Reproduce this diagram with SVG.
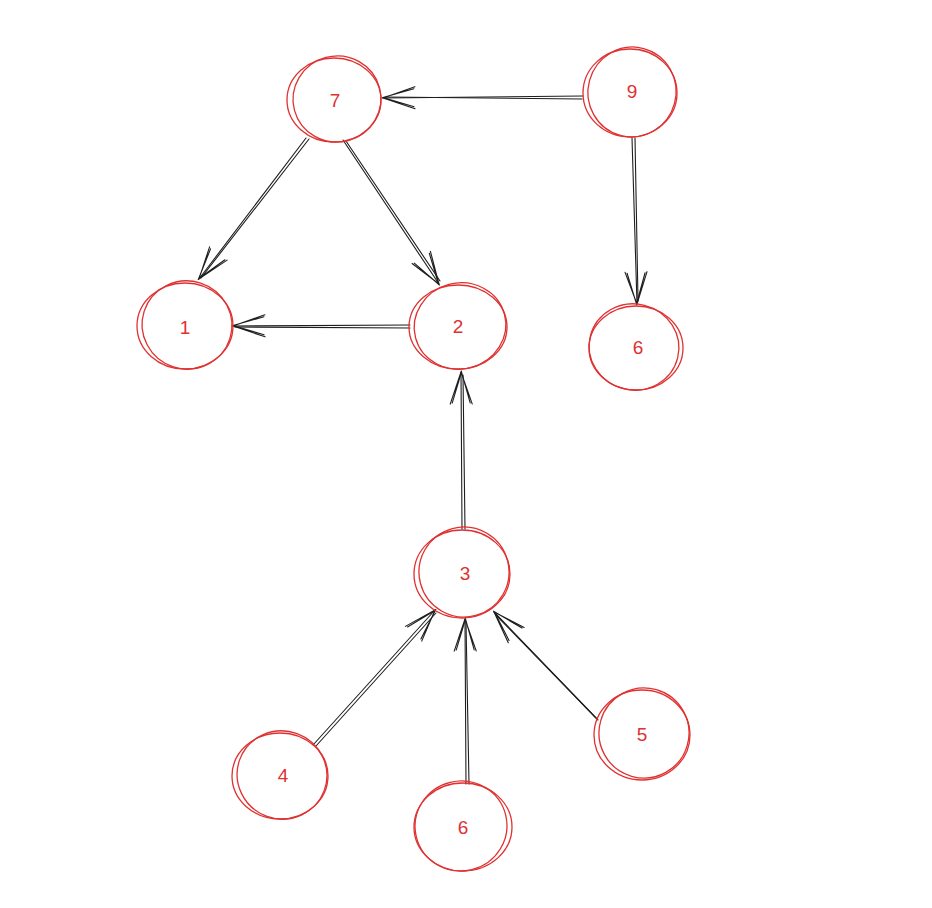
<svg xmlns="http://www.w3.org/2000/svg" width="932" height="908" viewBox="0 0 932 908">
<style>
.bg{fill:#ffffff}
.n{fill:none;stroke:#e03131;stroke-width:1.3}
.t{font-family:"Liberation Sans","DejaVu Sans",sans-serif;font-size:19px;fill:#e03131;text-anchor:middle;dominant-baseline:central}
.c{fill:none;stroke:#1e1e1e;stroke-width:1.1;stroke-linecap:round}
</style>
<defs>
<marker id="ah" markerUnits="userSpaceOnUse" viewBox="-36 -14 40 28" refX="0" refY="0" markerWidth="40" markerHeight="28" orient="auto" overflow="visible">
<path d="M-32,-11 L0,0 L-32,11 M-31,-9 L0,0.5 L-31,9" fill="none" stroke="#1e1e1e" stroke-width="1.1" stroke-linecap="round"/>
</marker>
</defs>
<rect class="bg" x="0" y="0" width="932" height="908"/>
<g id="connectors">
<path class="c" d="M583,96 L383,98" marker-end="url(#ah)"/>
<path class="c" d="M582,99 L386,97"/>
<path class="c" d="M632,138 L637,304" marker-end="url(#ah)"/>
<path class="c" d="M635,138 L638,301"/>
<path class="c" d="M306,138 L199,279" marker-end="url(#ah)"/>
<path class="c" d="M309,139 L201,278"/>
<path class="c" d="M343,140 L439,284" marker-end="url(#ah)"/>
<path class="c" d="M346,141 L440,281"/>
<path class="c" d="M410,325 L233,326" marker-end="url(#ah)"/>
<path class="c" d="M410,328 L235,327"/>
<path class="c" d="M462,529 L461,372" marker-end="url(#ah)"/>
<path class="c" d="M465,529 L463,375"/>
<path class="c" d="M313,745 L435,610" marker-end="url(#ah)"/>
<path class="c" d="M316,746 L436,613"/>
<path class="c" d="M466,784 L465,619" marker-end="url(#ah)"/>
<path class="c" d="M469,784 L466,622"/>
<path class="c" d="M598,720 L494,612" marker-end="url(#ah)"/>
<path class="c" d="M596,718 L496,615"/>
</g>
<g id="node7">
<ellipse class="n" cx="334" cy="100" rx="47" ry="42"/>
<ellipse class="n" cx="337" cy="99" rx="44" ry="43" transform="rotate(-15 337 99)"/>
<text class="t" x="335" y="100">7</text>
</g>
<g id="node9">
<ellipse class="n" cx="630" cy="93" rx="47" ry="44"/>
<ellipse class="n" cx="632" cy="92" rx="44" ry="45" transform="rotate(15 632 92)"/>
<text class="t" x="632" y="91">9</text>
</g>
<g id="node1">
<ellipse class="n" cx="185" cy="326" rx="48" ry="43"/>
<ellipse class="n" cx="187" cy="325" rx="45" ry="44" transform="rotate(18 187 325)"/>
<text class="t" x="185" y="327">1</text>
</g>
<g id="node2">
<ellipse class="n" cx="458" cy="327" rx="49" ry="42"/>
<ellipse class="n" cx="460" cy="326" rx="46" ry="43" transform="rotate(-15 460 326)"/>
<text class="t" x="458" y="326">2</text>
</g>
<g id="node6a">
<ellipse class="n" cx="636" cy="348" rx="47" ry="42"/>
<ellipse class="n" cx="634" cy="347" rx="45" ry="43" transform="rotate(14 634 347)"/>
<text class="t" x="638" y="347">6</text>
</g>
<g id="node3">
<ellipse class="n" cx="462" cy="574" rx="48" ry="44"/>
<ellipse class="n" cx="464" cy="572" rx="45" ry="45" transform="rotate(-15 464 572)"/>
<text class="t" x="465" y="573">3</text>
</g>
<g id="node4">
<ellipse class="n" cx="280" cy="776" rx="48" ry="43"/>
<ellipse class="n" cx="282" cy="775" rx="45" ry="44" transform="rotate(20 282 775)"/>
<text class="t" x="283" y="775">4</text>
</g>
<g id="node6b">
<ellipse class="n" cx="463" cy="827" rx="49" ry="44"/>
<ellipse class="n" cx="461" cy="826" rx="46" ry="45" transform="rotate(-14 461 826)"/>
<text class="t" x="463" y="827">6</text>
</g>
<g id="node5">
<ellipse class="n" cx="642" cy="735" rx="48" ry="45"/>
<ellipse class="n" cx="644" cy="733" rx="45" ry="45" transform="rotate(16 644 733)"/>
<text class="t" x="642" y="734">5</text>
</g>
</svg>
